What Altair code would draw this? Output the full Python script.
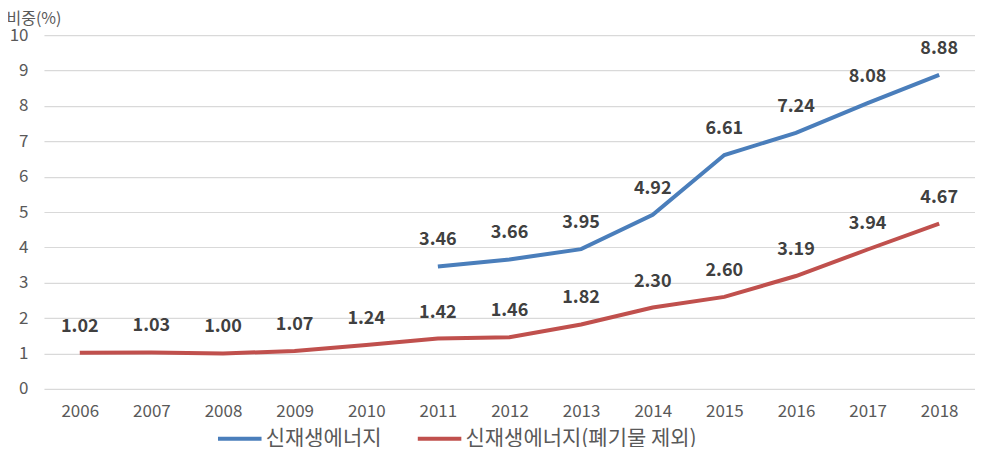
import altair as alt
import pandas as pd

years = [str(y) for y in range(2006, 2019)]
series_names = ["신재생에너지", "신재생에너지(폐기물 제외)"]
blue_years = ["2011", "2012", "2013", "2014", "2015", "2016", "2017", "2018"]
blue_vals = [3.46, 3.66, 3.95, 4.92, 6.61, 7.24, 8.08, 8.88]
red_vals = [1.02, 1.03, 1.00, 1.07, 1.24, 1.42, 1.46, 1.82, 2.30, 2.60, 3.19, 3.94, 4.67]
colors = ["#4a7ebb", "#c0504d"]

rows = []
for y, v in zip(blue_years, blue_vals):
    rows.append({"year": y, "value": v, "series": series_names[0]})
for y, v in zip(years, red_vals):
    rows.append({"year": y, "value": v, "series": series_names[1]})
df = pd.DataFrame(rows)

FONT = "Noto Sans CJK KR"

x = alt.X("year:O", sort=years, scale=alt.Scale(domain=years, type="point", padding=0.5),
          axis=alt.Axis(title=None, labelAngle=0, domain=False, ticks=False, grid=False,
                        labelFontSize=17, labelColor="#595959", labelPadding=15, labelFont=FONT))
y = alt.Y("value:Q", scale=alt.Scale(domain=[0, 10], nice=False),
          axis=alt.Axis(values=list(range(0, 11)), title="비중(%)", titleAngle=0, titleAlign="left",
                        titleX=-38, titleY=-17, titleBaseline="middle", titleFontSize=16,
                        titleFontWeight="normal", titleColor="#595959", titleFont=FONT,
                        domain=False, ticks=False, gridColor="#d9d9d9", gridWidth=1.2,
                        labelFontSize=17, labelColor="#595959", labelPadding=16, labelFont=FONT))

color = alt.Color("series:N", scale=alt.Scale(domain=series_names, range=colors),
                  legend=alt.Legend(title=None, orient="none", legendX=172, legendY=380,
                                    direction="horizontal", symbolType="stroke",
                                    symbolStrokeWidth=4, symbolSize=1900, labelFontSize=21,
                                    labelColor="#595959", labelFont=FONT, columnPadding=28,
                                    labelOffset=2, labelLimit=500))

base = alt.Chart(df)
lines = base.mark_line(strokeWidth=4).encode(x=x, y=y, color=color, detail="series:N")
labels = base.mark_text(dy=-26, fontSize=18, fontWeight="bold", color="#404040", font=FONT).encode(
    x=x, y=y, text=alt.Text("value:Q", format=".2f"))

chart = (lines + labels).properties(
    width=932, height=354,
    autosize=alt.AutoSizeParams(type="none"),
    padding={"left": 36, "top": 27, "right": 0, "bottom": 58},
).configure_view(stroke=None)

chart.save("out.html", embed_options={"renderer": "svg", "actions": False})
